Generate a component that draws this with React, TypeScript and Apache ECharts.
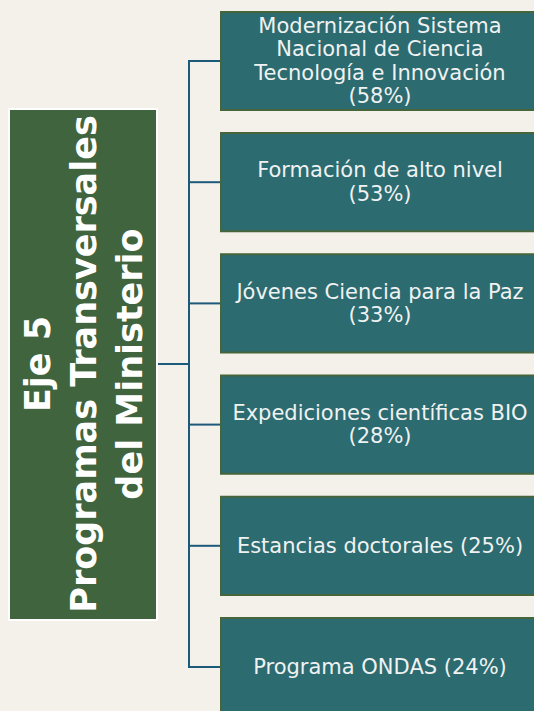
import React, { useEffect, useRef } from "react";
import * as echarts from "echarts";

const programs = [
  "Modernización Sistema\nNacional de Ciencia\nTecnología e Innovación",
  "Formación de alto nivel",
  "Jóvenes Ciencia para la Paz",
  "Expediciones científicas BIO",
  "Estancias doctorales",
  "Programa ONDAS",
];
const shares = [58, 53, 33, 28, 25, 24];
const separators = ["\n", "\n", "\n", "\n", " ", " "];
const axisTitle = "Eje 5\nProgramas Transversales\ndel Ministerio";

export default function App() {
  const ref = useRef<HTMLDivElement>(null);
  useEffect(() => {
    if (!ref.current) return;
    const chart = echarts.init(ref.current, undefined, { renderer: "svg" });
    const n = programs.length;
    chart.setOption({
      animation: false,
      backgroundColor: "#f4f0ea",
      grid: { left: 0, right: 0, top: 61, bottom: 44 },
      xAxis: { type: "value", show: false, min: 0, max: 100 },
      yAxis: { type: "value", show: false, inverse: true, min: 0, max: n - 1 },
      graphic: [
        {
          type: "rect",
          shape: { x: 9, y: 109, width: 148, height: 511 },
          style: { fill: "#40643e", stroke: "#ffffff", lineWidth: 2 },
        },
        {
          type: "text",
          x: 84,
          y: 364,
          rotation: Math.PI / 2,
          style: {
            text: axisTitle,
            fill: "#ffffff",
            font: 'bold 35px "DejaVu Sans"',
            align: "center",
            verticalAlign: "middle",
            lineHeight: 46,
          },
        },
      ],
      series: [
        {
          type: "custom",
          clip: false,
          encode: { x: 0, y: 1 },
          data: shares.map((v, i) => [v, i]),
          renderItem: (params: any, api: any) => {
            const i = params.dataIndex;
            const c = api.coord([0, i]);
            const band = Math.abs(api.size([0, 1])[1]);
            const boxH = band * 0.81;
            const y = c[1];
            const children: any[] = [
              {
                type: "rect",
                shape: { x: 221, y: y - boxH / 2, width: 330, height: boxH },
                style: { fill: "#2c6b70", stroke: "#46653a", lineWidth: 2 },
              },
              {
                type: "line",
                shape: { x1: 189, y1: y, x2: 220, y2: y },
                style: { stroke: "#1b5a7a", lineWidth: 2 },
              },
              {
                type: "text",
                x: 380,
                y: y,
                style: {
                  text: programs[i] + separators[i] + "(" + shares[i] + "%)",
                  fill: "#f0f2f2",
                  font: '21px "DejaVu Sans"',
                  align: "center",
                  verticalAlign: "middle",
                  lineHeight: 23.5,
                },
              },
            ];
            if (i === 0) {
              const last = api.coord([0, n - 1]);
              children.push({
                type: "line",
                shape: { x1: 189, y1: y - 1, x2: 189, y2: last[1] + 1 },
                style: { stroke: "#1b5a7a", lineWidth: 2 },
              });
              children.push({
                type: "line",
                shape: { x1: 158, y1: 364, x2: 189, y2: 364 },
                style: { stroke: "#1b5a7a", lineWidth: 2 },
              });
            }
            return { type: "group", children };
          },
        },
      ],
    });
    return () => chart.dispose();
  }, []);
  return (
    <div
      ref={ref}
      style={{ position: "fixed", left: 0, top: 0, width: 534, height: 711 }}
    />
  );
}
